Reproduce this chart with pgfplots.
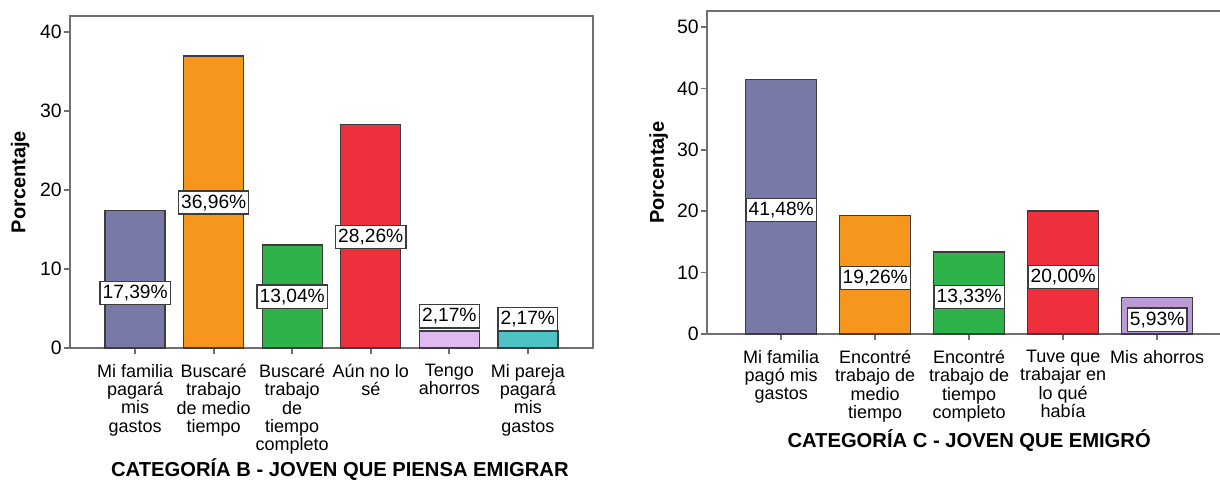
\documentclass[border=0pt]{standalone}
\usepackage{fontspec}
\setmainfont{Liberation Sans}
\usepackage{pgfplots}
\pgfplotsset{compat=1.18}
\definecolor{axgray}{HTML}{707070}
\definecolor{bargray}{HTML}{3C3C3C}
\definecolor{cpurp}{RGB}{121,121,168}
\definecolor{corange}{RGB}{247,150,29}
\definecolor{cgreen}{RGB}{45,179,74}
\definecolor{cred}{RGB}{238,48,60}
\definecolor{clav}{RGB}{222,186,240}
\definecolor{cteal}{RGB}{76,196,198}
\definecolor{clav2}{RGB}{186,155,211}
\begin{document}
\begin{tikzpicture}
\path[use as bounding box] (0,0) rectangle (610pt,239.5pt);
\pgfplotsset{
 common/.style={scale only axis, anchor=south west,
  axis line style={axgray, line width=0.8pt},
  tick style={axgray, line width=0.8pt},
  tick align=outside, major tick length=3pt, tick pos=left,
  /pgf/number format/assume math mode=true,
  yticklabel style={font=\fontsize{9.7}{10}\selectfont, inner sep=1pt},
  xticklabel style={font=\fontsize{9}{9.2}\selectfont, align=center, anchor=north, yshift=-1.5pt},
  ylabel style={font=\fontsize{10}{11}\bfseries\selectfont, anchor=center},
  xlabel style={font=\fontsize{10.1}{11}\bfseries\selectfont, anchor=center},
  ytick={0,10,...,50}, xtick={0,...,5}, ymin=0, clip=false},
 bars/.style={ybar, bar shift=0pt, draw=bargray, line width=0.7pt, fill=#1},
 labs/.style={only marks, mark=none, point meta=explicit,
  nodes near coords={\pgfmathprintnumber[fixed,fixed zerofill,precision=2,use comma,assume math mode=true]{\pgfplotspointmeta}\%},
  nodes near coords align={anchor=center},
  nodes near coords style={anchor=center, fill=white, draw=bargray, line width=0.6pt, inner xsep=1.3pt, inner ysep=1.8pt, font=\fontsize{9.6}{10}\selectfont}}
}
\begin{axis}[common, at={(35pt,65.5pt)}, width=261.5pt, height=166pt,
  xmin=-0.83, xmax=5.83, ymax=42, bar width=30pt,
  xticklabels={{Mi familia\\pagará\\mis\\gastos},{Buscaré\\trabajo\\de medio\\tiempo},{Buscaré\\trabajo\\de\\tiempo\\completo},{Aún no lo\\sé},{Tengo\\ahorros},{Mi pareja\\pagará\\mis\\gastos}},
  ylabel={Porcentaje}, ylabel style={at={(axis description cs:-0.095,0.5)}},
  xlabel={CATEGORÍA B - JOVEN QUE PIENSA EMIGRAR}, xlabel style={at={(axis description cs:0.516,-0.367)}}]
\addplot[bars=cpurp] coordinates {(0,17.39)};
\addplot[bars=corange] coordinates {(1,36.96)};
\addplot[bars=cgreen] coordinates {(2,13.04)};
\addplot[bars=cred] coordinates {(3,28.26)};
\addplot[bars=clav] coordinates {(4,2.17)};
\addplot[bars=cteal] coordinates {(5,2.17)};
\addplot[labs] coordinates {(0,7.0) [17.39] (1,18.4) [36.96] (2,6.5) [13.04] (3,14.05) [28.26] (4,4.0) [2.17] (5,3.7) [2.17]};
\end{axis}
\begin{axis}[common, at={(353.5pt,72.5pt)}, width=257.5pt, height=161.5pt,
  xmin=-0.79, xmax=4.69, ymax=52.6, bar width=35.5pt,
  xticklabels={{Mi familia\\pagó mis\\gastos},{Encontré\\trabajo de\\medio\\tiempo},{Encontré\\trabajo de\\tiempo\\completo},{Tuve que\\trabajar en\\lo qué\\había},{Mis ahorros}},
  ylabel={Porcentaje}, ylabel style={at={(axis description cs:-0.094,0.5)}},
  xlabel={CATEGORÍA C - JOVEN QUE EMIGRÓ}, xlabel style={at={(axis description cs:0.509,-0.331)}}]
\addplot[bars=cpurp] coordinates {(0,41.48)};
\addplot[bars=corange] coordinates {(1,19.26)};
\addplot[bars=cgreen] coordinates {(2,13.33)};
\addplot[bars=cred] coordinates {(3,20.00)};
\addplot[bars=clav2] coordinates {(4,5.93)};
\addplot[labs] coordinates {(0,20.2) [41.48] (1,9.1) [19.26] (2,6.0) [13.33] (3,9.3) [20.00] (4,2.35) [5.93]};
\end{axis}
\end{tikzpicture}
\end{document}
